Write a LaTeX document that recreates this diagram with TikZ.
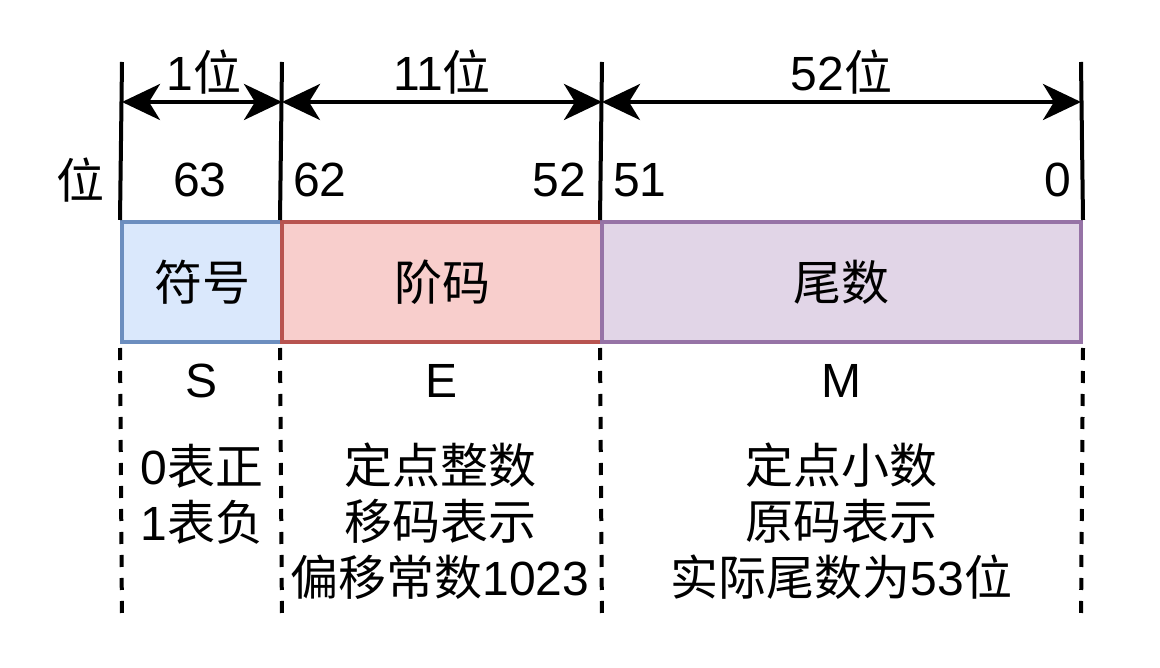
\documentclass[tikz,border=0pt]{standalone}
\usepackage{fontspec}
\setmainfont{Liberation Sans}
\newfontfamily\cjk{Noto Sans CJK SC}
\usetikzlibrary{arrows.meta}
\newcommand\zh[1]{{\cjk #1}}
\begin{document}
\begin{tikzpicture}[x=1pt,y=-1pt,
  lbl/.style={inner sep=0pt, font=\fontsize{48}{56}\selectfont, align=center},
  field/.style={draw, line width=4pt, minimum height=120pt, inner sep=0pt,
    font=\fontsize{48}{56}\selectfont},
  dim/.style={line width=4pt, {Stealth[length=38pt,width=36pt,inset=11pt]}-{Stealth[length=38pt,width=36pt,inset=11pt]}},
  guide/.style={line width=4pt},
  dguide/.style={line width=4pt, dash pattern=on 12pt off 11pt}]
\useasboundingbox (0,0) rectangle (1160,668);
\definecolor{sfill}{HTML}{DAE8FC}\definecolor{sline}{HTML}{6C8EBF}
\definecolor{efill}{HTML}{F8CECC}\definecolor{eline}{HTML}{B85450}
\definecolor{mfill}{HTML}{E1D5E7}\definecolor{mline}{HTML}{9673A6}

% fields
\node[field, fill=sfill, draw=sline, minimum width=160pt] (sign) at (202,282) {\zh{符号}};
\node[field, fill=efill, draw=eline, minimum width=320pt] (expo) at (442,282) {\zh{阶码}};
\node[field, fill=mfill, draw=mline, minimum width=479pt] (mant) at (841.5,282) {\zh{尾数}};

% guide coordinates
\coordinate (t1) at (122,62);  \coordinate (b1) at (122,622);
\coordinate (t2) at (282,62);  \coordinate (b2) at (282,622);
\coordinate (t3) at (602,62);  \coordinate (b3) at (602,622);
\coordinate (t4) at (1081,62); \coordinate (b4) at (1081,622);
\coordinate (a1) at (122,102); \coordinate (a2) at (282,102);
\coordinate (a3) at (602,102); \coordinate (a4) at (1081,102);

\draw[guide] (t1) -- (sign.north west);
\draw[guide] (t2) -- (expo.north west);
\draw[guide] (t3) -- (mant.north west);
\draw[guide] (t4) -- (mant.north east);
\draw[dguide] ([yshift=-4pt]sign.south west) -- (b1);
\draw[dguide] ([yshift=-4pt]expo.south west) -- (b2);
\draw[dguide] ([yshift=-4pt]mant.south west) -- (b3);
\draw[dguide] ([yshift=-4pt]mant.south east) -- (b4);

% dimension arrows
\draw[dim] (a1) -- (a2);
\draw[dim] (a2) -- (a3);
\draw[dim] (a3) -- (a4);
\node[lbl] (w1) at (204,72) {1\zh{位}};
\node[lbl] (w2) at (442,72) {11\zh{位}};
\node[lbl] (w3) at (841.5,72) {52\zh{位}};

% bit positions
\node[lbl] (pos) at (80,180) {\zh{位}};
\node[lbl] (p63) at (200,180) {63};
\node[lbl, anchor=west] (p62) at (293,180) {62};
\node[lbl, anchor=east] (p52) at (586,180) {52};
\node[lbl, anchor=west] (p51) at (613,180) {51};
\node[lbl, anchor=east] (p0) at (1071,180) {0};

% letters
\node[lbl] (S) at (202,381) {S};
\node[lbl] (E) at (442,381) {E};
\node[lbl] (M) at (841.5,381) {M};

% descriptions
\node[lbl] (dS) at (202,494) {0\zh{表正}\\1\zh{表负}};
\node[lbl] (dE) at (440,521) {\zh{定点整数}\\\zh{移码表示}\\\zh{偏移常数}1023};
\node[lbl] (dM) at (841.5,521) {\zh{定点小数}\\\zh{原码表示}\\\zh{实际尾数为}53\zh{位}};
\end{tikzpicture}
\end{document}
